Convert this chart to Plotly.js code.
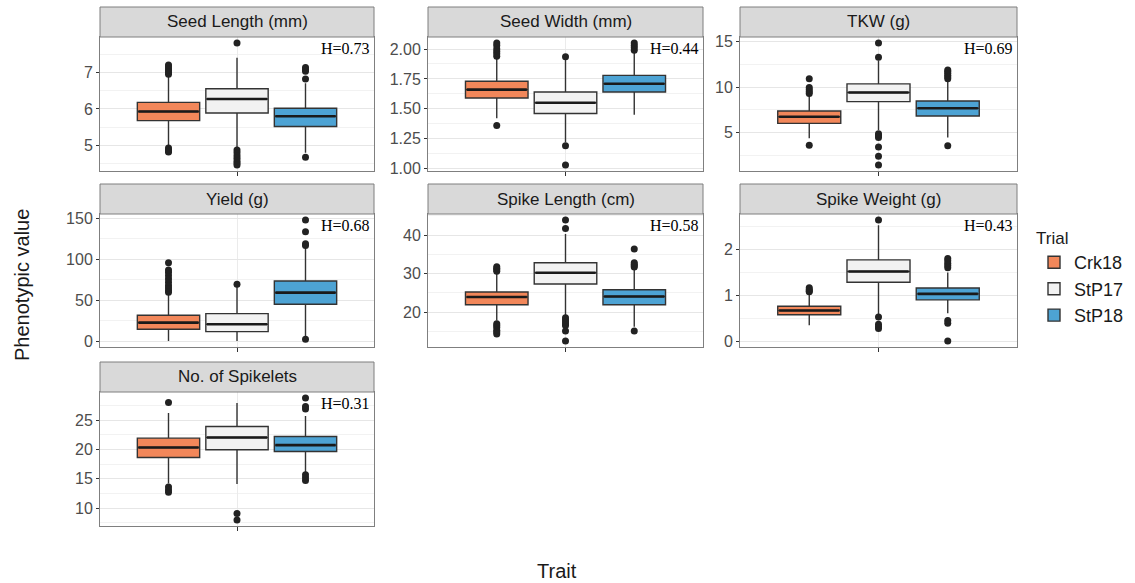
<!DOCTYPE html>
<html>
<head>
<meta charset="utf-8">
<script src="https://cdn.plot.ly/plotly-3.0.1.min.js"></script>
<style>html,body{margin:0;padding:0;background:#fff;}#chart{width:1135px;height:583px;}</style>
</head>
<body>
<div id="chart"></div>
<script>
// ---- data ----
const trials = ['Crk18', 'StP17', 'StP18'];
const trialColors = ['#F2875A', '#F2F2F2', '#4DA3D4'];
const traits = ['Seed Length (mm)', 'Seed Width (mm)', 'TKW (g)', 'Yield (g)', 'Spike Length (cm)', 'Spike Weight (g)', 'No. of Spikelets'];
const heritability = ['H=0.73', 'H=0.44', 'H=0.69', 'H=0.68', 'H=0.58', 'H=0.43', 'H=0.31'];
const tickStep = [1, 0.25, 5, 50, 10, 1, 5];
const tickFormat = ['', '.2f', '', '', '', '', ''];

const lowerFence = [
  [4.98, 4.95, 4.80], [1.42, 1.22, 1.45], [4.4, 5.3, 4.5], [0.5, 0.5, 5],
  [17.8, 19.1, 16.2], [0.36, 0.58, 0.62], [14.2, 14.1, 16.1]
];
const q1Vals = [
  [5.68, 5.89, 5.52], [1.59, 1.46, 1.64], [6.03, 8.41, 6.84], [14.7, 11.9, 45.2],
  [21.9, 27.3, 21.9], [0.586, 1.286, 0.907], [18.63, 19.94, 19.65]
];
const medianVals = [
  [5.93, 6.27, 5.80], [1.66, 1.55, 1.71], [6.76, 9.40, 7.68], [22.9, 20.8, 59.5],
  [23.9, 30.2, 24.05], [0.678, 1.52, 1.036], [20.33, 22.04, 20.74]
];
const q3Vals = [
  [6.18, 6.55, 6.02], [1.73, 1.64, 1.78], [7.38, 10.35, 8.48], [31.8, 33.9, 73.7],
  [25.2, 32.8, 25.8], [0.77, 1.77, 1.164], [21.93, 23.9, 22.2]
];
const upperFence = [
  [6.9, 7.4, 6.7], [1.92, 1.91, 1.98], [9.1, 12.9, 10.7], [58, 67, 114],
  [30.2, 40.3, 31.4], [1.05, 2.52, 1.5], [26.2, 27.9, 25.7]
];
const outliers = [
  [[4.93, 4.88, 4.85, 4.82, 6.95, 7.0, 7.05, 7.1, 7.15, 7.2], [4.88, 4.8, 4.72, 4.65, 4.58, 4.52, 4.47, 7.8], [4.68, 6.82, 7.03, 7.08, 7.13]],
  [[1.36, 1.94, 1.96, 1.98, 2.0, 2.03, 2.05], [1.03, 1.19, 1.935], [1.99, 2.01, 2.03, 2.05]],
  [[3.65, 9.3, 9.5, 9.7, 9.95, 10.9], [1.5, 2.45, 3.45, 4.5, 4.7, 4.9, 13.25, 14.8], [3.6, 10.9, 11.1, 11.3, 11.5, 11.7, 11.85]],
  [[60, 62, 65, 68, 72, 76, 80, 84, 87, 96], [69.7], [2.5, 117, 119, 133.6, 148]],
  [[14.3, 14.8, 15.3, 16, 16.5, 17, 30.6, 31, 31.4, 31.8], [12.5, 15.1, 16.5, 17, 17.5, 18, 18.5, 41.7, 43.9], [15.1, 31.7, 32, 32.4, 32.8, 36.4]],
  [[1.08, 1.1, 1.13, 1.17], [0.29, 0.33, 0.38, 0.536, 2.63], [0.02, 0.4, 0.46, 1.6, 1.65, 1.7, 1.75, 1.8]],
  [[12.7, 13.1, 13.6, 28.0], [8.0, 9.08], [14.7, 15.2, 15.7, 26.9, 27.3, 28.75]]
];

// ---- layout geometry (pixels) ----
const W = 1135, H = 583;
const colX = [[100, 374], [428, 703], [740, 1017]];
const rowY = [[37, 171], [214, 347], [392, 526]];
const stripH = 30;
const px = v => v / W;
const py = v => 1 - v / H;

const traces = [];
const layout = {
  width: W, height: H,
  margin: {l: 0, r: 0, t: 0, b: 0},
  paper_bgcolor: '#ffffff', plot_bgcolor: '#ffffff',
  font: {family: 'Liberation Sans, Arial, sans-serif', color: '#1a1a1a'},
  showlegend: true,
  boxmode: 'overlay',
  legend: {
    x: px(1034), y: py(222), xanchor: 'left', yanchor: 'top',
    font: {size: 18, color: '#1a1a1a'},
    title: {text: 'Trial', font: {size: 17, color: '#1a1a1a'}},
    bgcolor: 'rgba(0,0,0,0)', tracegroupgap: 0, itemwidth: 30
  },
  shapes: [], annotations: []
};

traits.forEach((trait, i) => {
  const col = i % 3, row = Math.floor(i / 3);
  const xs = i === 0 ? 'x' : 'x' + (i + 1);
  const ys = i === 0 ? 'y' : 'y' + (i + 1);
  const xk = i === 0 ? 'xaxis' : 'xaxis' + (i + 1);
  const yk = i === 0 ? 'yaxis' : 'yaxis' + (i + 1);
  const [x0, x1] = colX[col];
  const [y0, y1] = rowY[row];

  // y range: data extent + 5% (like ggplot)
  let lo = Infinity, hi = -Infinity;
  trials.forEach((t, k) => {
    [lowerFence[i][k], upperFence[i][k], ...outliers[i][k]].forEach(v => { lo = Math.min(lo, v); hi = Math.max(hi, v); });
  });
  const pad = (hi - lo) * 0.05;

  layout[xk] = {
    domain: [px(x0), px(x1)], anchor: ys,
    type: 'category', categoryorder: 'array', categoryarray: trials,
    range: [-1, 3], tickmode: 'array', tickvals: ['StP17'], ticktext: [''],
    ticks: 'outside', ticklen: 4, tickcolor: '#333', tickwidth: 1,
    showgrid: true, gridcolor: '#ebebeb', gridwidth: 1,
    showline: true, mirror: true, linecolor: '#7f7f7f', linewidth: 1,
    zeroline: false, fixedrange: true
  };
  layout[yk] = {
    domain: [py(y1), py(y0)], anchor: xs,
    range: [lo - pad, hi + pad], dtick: tickStep[i], tick0: 0,
    tickformat: tickFormat[i],
    ticks: 'outside', ticklen: 3, tickcolor: '#333', tickwidth: 1,
    tickfont: {size: 16, color: '#4d4d4d'},
    showgrid: true, gridcolor: '#e6e6e6', gridwidth: 1,
    minor: {dtick: tickStep[i] / 2, showgrid: true, gridcolor: '#f2f2f2', gridwidth: 1, ticks: ''},
    showline: true, mirror: true, linecolor: '#7f7f7f', linewidth: 1,
    zeroline: false, fixedrange: true
  };

  // strip
  layout.shapes.push({
    type: 'rect', xref: 'paper', yref: 'paper',
    x0: px(x0), x1: px(x1), y0: py(y0), y1: py(y0 - stripH),
    fillcolor: '#d9d9d9', line: {color: '#7f7f7f', width: 1}
  });
  layout.annotations.push({
    xref: 'paper', yref: 'paper', x: px((x0 + x1) / 2), y: py(y0 - stripH / 2),
    xanchor: 'center', yanchor: 'middle', showarrow: false,
    text: trait, font: {size: 17, color: '#1a1a1a'}
  });
  layout.annotations.push({
    xref: 'paper', yref: 'paper', x: px(x1 - 2), y: py(y0 + 1),
    xanchor: 'right', yanchor: 'top', showarrow: false,
    text: heritability[i], font: {size: 16, color: '#000', family: 'Liberation Serif, Times New Roman, serif'}
  });

  trials.forEach((t, k) => {
    traces.push({
      type: 'box', name: t, legendgroup: t, showlegend: i === 0,
      x: [t], q1: [q1Vals[i][k]], median: [medianVals[i][k]], q3: [q3Vals[i][k]],
      lowerfence: [lowerFence[i][k]], upperfence: [upperFence[i][k]],
      xaxis: xs, yaxis: ys, width: 0.91, whiskerwidth: 0, boxpoints: false,
      fillcolor: trialColors[k], line: {color: '#333333', width: 1.4},
      hoverinfo: 'skip'
    });
  });
  // thick median lines
  traces.push({
    type: 'scatter', mode: 'markers', x: trials, y: medianVals[i], xaxis: xs, yaxis: ys,
    showlegend: false, hoverinfo: 'skip',
    marker: {symbol: 'line-ew', size: 43, color: '#1a1a1a', line: {color: '#1a1a1a', width: 2.6}}
  });
  // outliers
  const ox = [], oy = [];
  trials.forEach((t, k) => outliers[i][k].forEach(v => { ox.push(t); oy.push(v); }));
  traces.push({
    type: 'scatter', mode: 'markers', x: ox, y: oy, xaxis: xs, yaxis: ys,
    showlegend: false, hoverinfo: 'skip',
    marker: {size: 7, color: '#222222'}
  });
});

layout.annotations.push({
  xref: 'paper', yref: 'paper', x: px(22), y: py(285), textangle: -90,
  xanchor: 'center', yanchor: 'middle', showarrow: false,
  text: 'Phenotypic value', font: {size: 20, color: '#1a1a1a'}
});
layout.annotations.push({
  xref: 'paper', yref: 'paper', x: px(557), y: py(571),
  xanchor: 'center', yanchor: 'middle', showarrow: false,
  text: 'Trait', font: {size: 20, color: '#1a1a1a'}
});

Plotly.newPlot('chart', traces, layout, {staticPlot: true, displayModeBar: false});
</script>
</body>
</html>
